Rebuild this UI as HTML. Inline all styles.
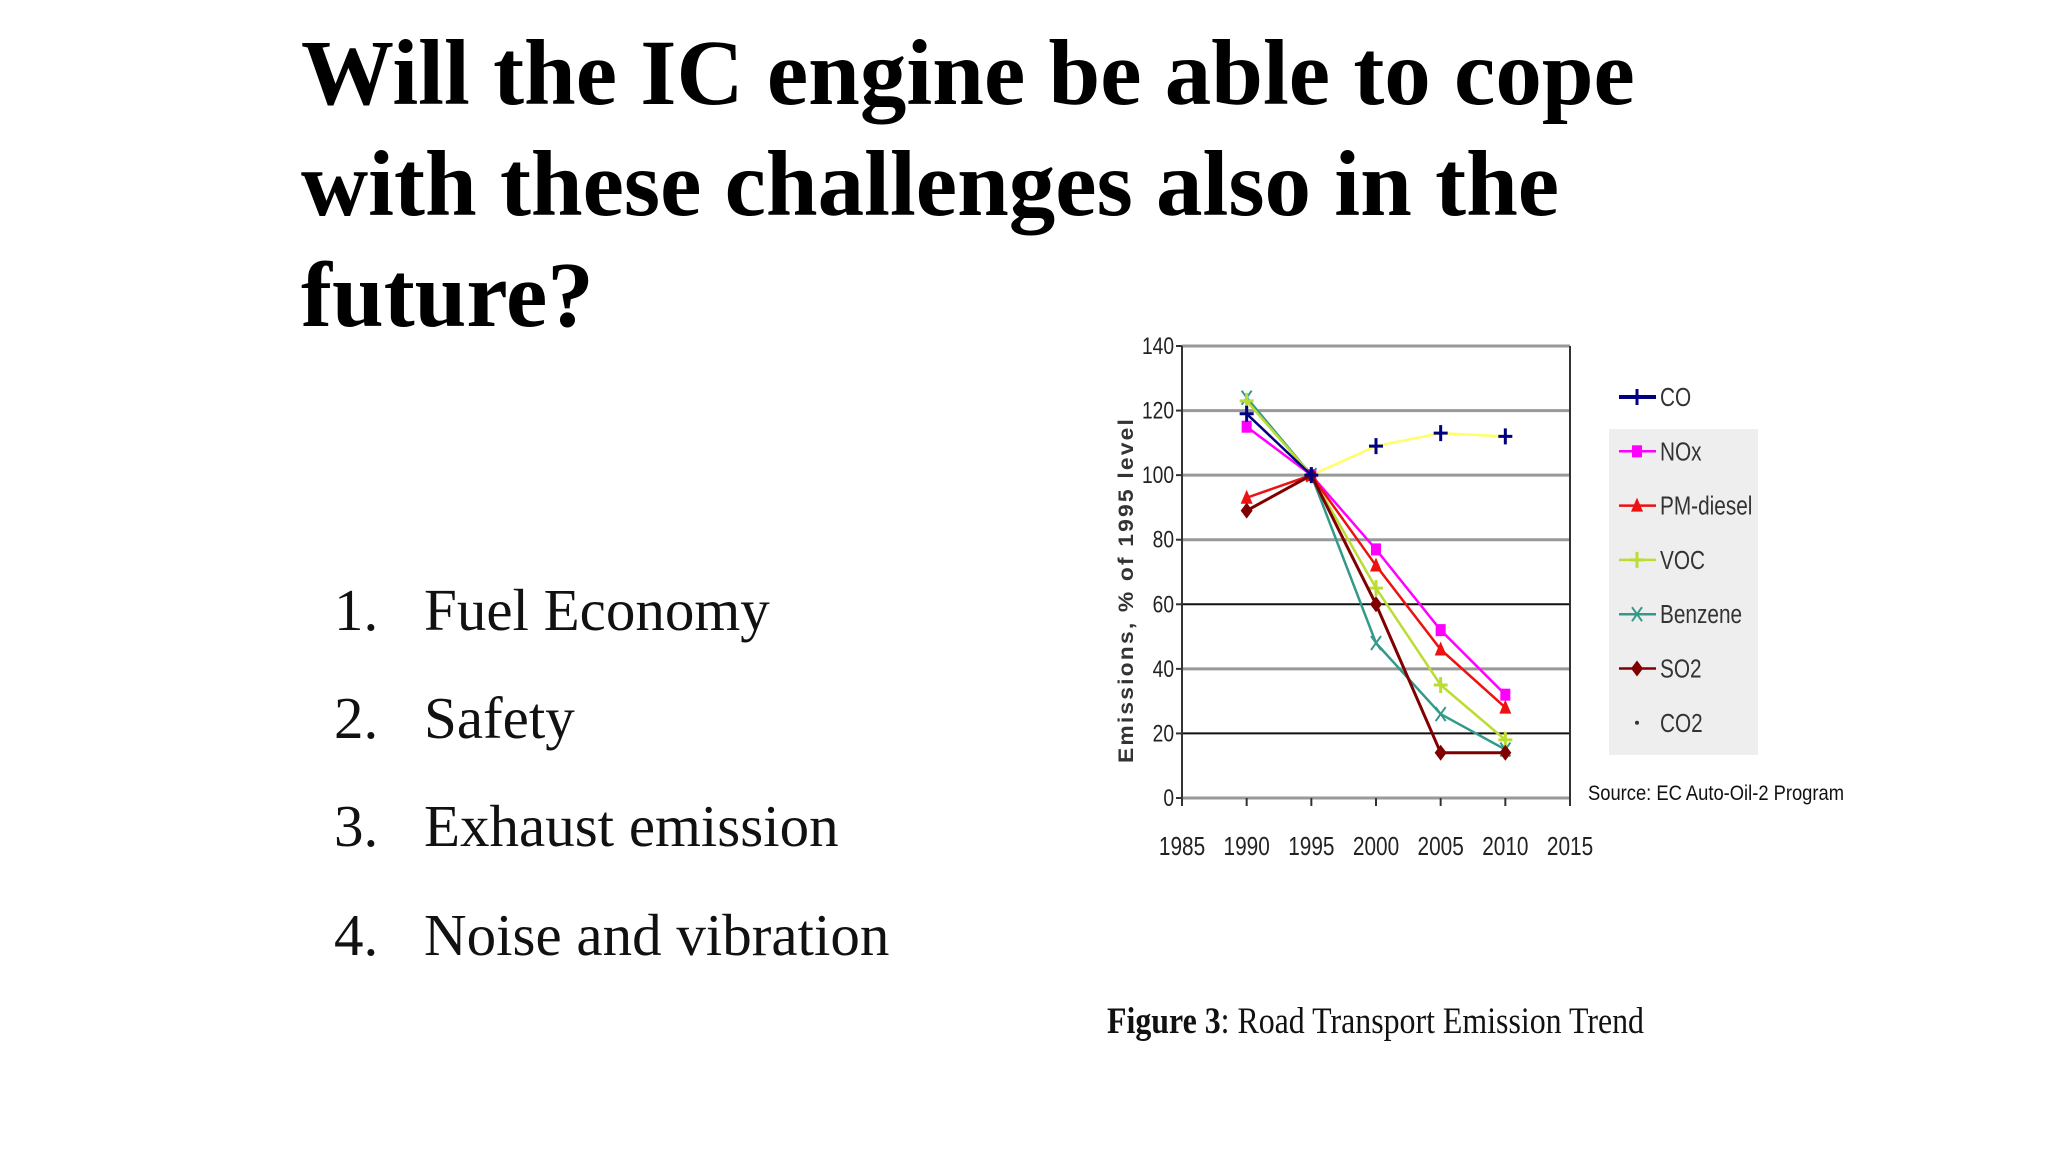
<!DOCTYPE html>
<html><head><meta charset="utf-8"><style>
html,body{margin:0;padding:0;background:#fff;}
body{width:2048px;height:1152px;position:relative;overflow:hidden;font-family:"Liberation Serif",serif;}
.title{position:absolute;left:301px;top:18px;font-weight:bold;font-size:93px;line-height:111px;color:#000;margin:0;}
.item{position:absolute;font-size:59px;color:#111;}
</style></head><body>
<h1 class="title">Will the IC engine be able to cope<br>with these challenges also in the<br>future?</h1>
<div class="item" style="left:334px;top:576px">1.</div>
<div class="item" style="left:424px;top:576px">Fuel Economy</div>
<div class="item" style="left:334px;top:684px">2.</div>
<div class="item" style="left:424px;top:684px">Safety</div>
<div class="item" style="left:334px;top:792px">3.</div>
<div class="item" style="left:424px;top:792px">Exhaust emission</div>
<div class="item" style="left:334px;top:901px">4.</div>
<div class="item" style="left:424px;top:901px">Noise and vibration</div>
<svg id="chart" width="2048" height="1152" style="position:absolute;left:0;top:0" xmlns="http://www.w3.org/2000/svg"></svg>
<script>
const years=[1990,1995,2000,2005,2010];
const xTicks=[1985,1990,1995,2000,2005,2010,2015];
const yTicks=[0,20,40,60,80,100,120,140];
const seriesNames=["CO","NOx","PM-diesel","VOC","Benzene","SO2","CO2"];
const coVals=[119,100,109,113,112];
const noxVals=[115,100,77,52,32];
const pmVals=[93,100,72,46,28];
const vocVals=[123,100,65,35,18];
const benzVals=[124,100,48,26,15];
const so2Vals=[89,100,60,14,14];
const co2Vals=[null,100,109,113,112];
const colors=["#000080","#ff00ff","#ee1111","#bbdd33","#339988","#800000","#ffff66"];
const L=1182,R=1570,T=346,B=798;
const xs=v=>L+(v-1985)/30*(R-L);
const ys=v=>B-v/140*(B-T);
const svg=document.getElementById('chart');
const NS="http://www.w3.org/2000/svg";
function mk(tag,at,parent){const e=document.createElementNS(NS,tag);for(const k in at)e.setAttribute(k,at[k]);(parent||svg).appendChild(e);return e;}
yTicks.forEach(t=>{
 const g=mk('line',{x1:L,x2:R,y1:ys(t),y2:ys(t),stroke:(t==20||t==60)?'#111':'#999','stroke-width':(t==20||t==60)?2:3});
 
 
 const tx=mk('text',{x:0,y:0,transform:`translate(${L-8},${ys(t)+8}) scale(0.8,1)`,'text-anchor':'end','font-size':24,'font-family':'Liberation Sans, sans-serif',fill:'#222'});
 tx.textContent=t;
 
 
 mk('line',{x1:L-6,x2:L,y1:ys(t),y2:ys(t),stroke:'#333','stroke-width':2});
});
const ax=mk('line',{x1:L,x2:L,y1:T,y2:B+6,stroke:'#333','stroke-width':2});


const rb=mk('line',{x1:R,x2:R,y1:T,y2:B+6,stroke:'#333','stroke-width':2});


xTicks.forEach(t=>{
 mk('line',{x1:xs(t),x2:xs(t),y1:B,y2:B+8,stroke:'#333','stroke-width':2});
 const tx=mk('text',{x:0,y:0,transform:`translate(${xs(t)},${B+57}) scale(0.8,1)`,'text-anchor':'middle','font-size':26,'font-family':'Liberation Sans, sans-serif',fill:'#222'});
 tx.textContent=t;
 
 
});
const yt=mk('text',{x:0,y:0,transform:'translate(1133,590) rotate(-90)','text-anchor':'middle','font-size':21,'font-weight':'bold','font-family':'Liberation Sans, sans-serif',fill:'#333','letter-spacing':'2',textLength:346,lengthAdjust:'spacingAndGlyphs'});
yt.textContent='Emissions, % of 1995 level';


function marker(type,x,y,c,g){
 if(type=='plus'){mk('path',{d:`M${x-7} ${y}H${x+7}M${x} ${y-8}V${y+8}`,stroke:c,'stroke-width':3},g);}
 else if(type=='square'){mk('rect',{x:x-5,y:y-6,width:10,height:12,fill:c},g);}
 else if(type=='tri'){mk('path',{d:`M${x} ${y-8}L${x+6} ${y+6}L${x-6} ${y+6}Z`,fill:c},g);}
 else if(type=='x'){mk('path',{d:`M${x-5} ${y-7}L${x+5} ${y+7}M${x+5} ${y-7}L${x-5} ${y+7}`,stroke:c,'stroke-width':2},g);}
 else if(type=='diamond'){mk('path',{d:`M${x} ${y-8}L${x+6} ${y}L${x} ${y+8}L${x-6} ${y}Z`,fill:c},g);}
 else if(type=='dot'){mk('circle',{cx:x,cy:y,r:2,fill:'#333'},g);}
}
const allVals=[coVals,noxVals,pmVals,vocVals,benzVals,so2Vals,co2Vals];
const markers=['plus','square','tri','plus','x','diamond','dot'];
const drawOrder=[6,4,3,1,2,5,0];
drawOrder.forEach(i=>{
 const g=mk('g',{});
 
 
 const vals=allVals[i];
 let pts=[];
 vals.forEach((v,j)=>{if(v!==null&&!(i==0&&j>1))pts.push(xs(years[j])+','+ys(v));});
 mk('polyline',{points:pts.join(' '),fill:'none',stroke:colors[i],'stroke-width':i==5?3:2.5},g);
 vals.forEach((v,j)=>{if(v!==null)marker(markers[i],xs(years[j]),ys(v),colors[i],g);});
});
const LX=-17;
const lg=mk('g',{transform:`translate(${LX},0)`});


mk('rect',{x:1626,y:429,width:149,height:326,fill:'#eeeeee'},lg);
seriesNames.forEach((n,i)=>{
 const y=397+i*54.3;
 const e=mk('g',{},lg);
 
 
 if(i!=6)mk('line',{x1:1636,x2:1673,y1:y,y2:y,stroke:colors[i],'stroke-width':i==0?4:2.5},e);
 marker(markers[i],1654,y,colors[i],e);
 const t=mk('text',{x:0,y:0,transform:`translate(1677,${y+9}) scale(0.8,1)`,'font-size':26,'font-family':'Liberation Sans, sans-serif',fill:'#333'},e);
 t.textContent=n;
});
const src=mk('text',{x:1588,y:800,'font-size':21,'font-family':'Liberation Sans, sans-serif',fill:'#111',textLength:256,lengthAdjust:'spacingAndGlyphs'});
src.textContent='Source: EC Auto-Oil-2 Program';


const cap=mk('text',{x:1107,y:1033,'font-size':37,'font-family':'Liberation Serif, serif',fill:'#111',textLength:537,lengthAdjust:'spacingAndGlyphs'});
cap.innerHTML='<tspan font-weight="bold">Figure 3</tspan>: Road Transport Emission Trend';


</script>
</body></html>
